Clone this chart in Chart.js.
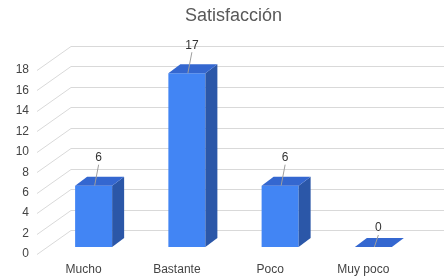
<!DOCTYPE html>
<html>
<head>
<meta charset="utf-8">
<script src="https://cdn.jsdelivr.net/npm/chart.js@4"></script>
<style>
html,body{margin:0;padding:0;background:#fff;}
canvas{display:block;}
</style>
</head>
<body>
<canvas id="c" width="446" height="279"></canvas>
<script>
const categories = ["Mucho", "Bastante", "Poco", "Muy poco"];
const values = [6, 17, 6, 0];
const tickValues = [0, 2, 4, 6, 8, 10, 12, 14, 16, 18];
const chartTitle = "Satisfacción";

const FONT = "'Liberation Sans', Arial, sans-serif";
// 3D geometry (pixels)
const BACK_DX = 24, BACK_DY = -17;   // bar plane -> back wall
const FRONT_DX = -10, FRONT_DY = 7;  // bar plane -> front edge
const BAR_DX = 12, BAR_DY = -9;      // bar depth

const threeD = {
  id: 'threeD',
  beforeDatasetsDraw(chart) {
    const ctx = chart.ctx, y = chart.scales.y, a = chart.chartArea;
    ctx.save();
    ctx.strokeStyle = '#d9d9d9';
    ctx.lineWidth = 1;
    tickValues.forEach(v => {
      const py = Math.round(y.getPixelForValue(v)) + 0.5;
      ctx.beginPath();
      ctx.moveTo(a.left + BACK_DX, py + BACK_DY);
      ctx.lineTo(a.right + BACK_DX, py + BACK_DY);
      ctx.stroke();
      ctx.beginPath();
      ctx.moveTo(a.left + BACK_DX, py + BACK_DY);
      ctx.lineTo(a.left + FRONT_DX, py + FRONT_DY);
      ctx.stroke();
    });
    ctx.restore();
  },
  afterDatasetsDraw(chart) {
    const ctx = chart.ctx;
    const meta = chart.getDatasetMeta(0);
    ctx.save();
    meta.data.forEach((bar, i) => {
      const p = bar.getProps(['x', 'y', 'base', 'width'], true);
      const x1 = p.x - p.width / 2, x2 = p.x + p.width / 2;
      const top = p.y, base = p.base;
      // side
      ctx.fillStyle = '#2b57a8';
      ctx.beginPath();
      ctx.moveTo(x2, top); ctx.lineTo(x2 + BAR_DX, top + BAR_DY);
      ctx.lineTo(x2 + BAR_DX, base + BAR_DY); ctx.lineTo(x2, base);
      ctx.closePath(); ctx.fill();
      // top
      ctx.fillStyle = '#3467d0';
      ctx.beginPath();
      ctx.moveTo(x1, top); ctx.lineTo(x2, top);
      ctx.lineTo(x2 + BAR_DX, top + BAR_DY); ctx.lineTo(x1 + BAR_DX, top + BAR_DY);
      ctx.closePath(); ctx.fill();
      // data label with leader line
      const v = values[i];
      const off = v > 0 ? 28 : 19;
      const lx = p.x + 5, ly = top - off;
      ctx.strokeStyle = '#9e9e9e';
      ctx.lineWidth = 1;
      ctx.beginPath();
      ctx.moveTo(lx, ly + 7);
      ctx.lineTo(p.x + 1, top);
      ctx.stroke();
      ctx.fillStyle = '#333';
      ctx.font = '12px ' + FONT;
      ctx.textAlign = 'center';
      ctx.textBaseline = 'middle';
      ctx.fillText(String(v), lx, ly);
    });
    ctx.restore();
  }
};

new Chart(document.getElementById('c'), {
  type: 'bar',
  data: {
    labels: categories,
    datasets: [{
      data: values,
      backgroundColor: '#4285f4',
      borderWidth: 0,
      categoryPercentage: 1,
      barPercentage: 0.397
    }]
  },
  options: {
    responsive: false,
    animation: false,
    layout: { padding: { left: 0, right: 26, top: 0, bottom: 0 } },
    plugins: {
      legend: { display: false },
      tooltip: { enabled: false },
      title: {
        display: true,
        fullSize: false,
        text: chartTitle,
        color: '#595959',
        font: { family: FONT, size: 18, weight: 'normal', lineHeight: 1.2 },
        padding: { top: 5.5, bottom: 35.9 }
      }
    },
    scales: {
      x: {
        grid: { display: false, drawTicks: false },
        border: { display: false },
        ticks: {
          color: '#444',
          font: { family: FONT, size: 12 },
          padding: 15,
          labelOffset: -10,
          maxRotation: 0
        },
        afterFit(s) { s.height = 32; }
      },
      y: {
        min: 0, max: 18,
        grid: { display: false, drawTicks: false },
        border: { display: false },
        afterBuildTicks(s) { s.ticks = tickValues.map(v => ({ value: v })); },
        ticks: {
          color: '#444',
          font: { family: FONT, size: 12 },
          padding: 18,
          labelOffset: 7
        },
        afterFit(s) { s.width = 47; }
      }
    }
  },
  plugins: [threeD]
});
</script>
</body>
</html>
